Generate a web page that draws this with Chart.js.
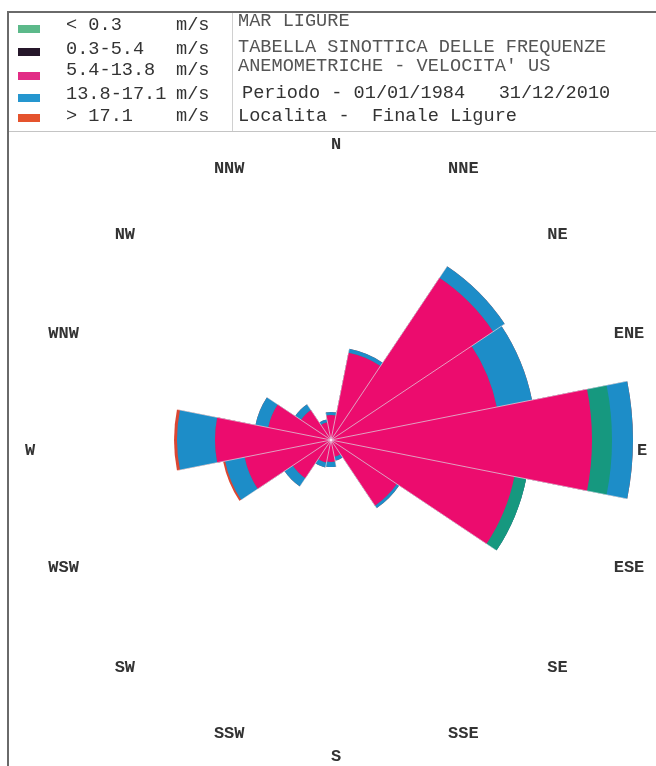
<!DOCTYPE html>
<html>
<head>
<meta charset="utf-8">
<script src="https://cdn.jsdelivr.net/npm/chart.js@4.4.1/dist/chart.umd.min.js"></script>
<style>
  html, body { margin: 0; padding: 0; background: #fff; width: 656px; height: 766px; overflow: hidden; }
  .frame { position: absolute; left: 7px; top: 11px; width: 680px; height: 760px; z-index: 2; pointer-events: none;
           border-left: 2px solid #6a6a6a; border-top: 2px solid #6a6a6a; }
  .head { position: absolute; left: 9px; top: 13px; width: 660px; height: 118px; border-bottom: 1px solid #c4c4c4; z-index: 2; }
  .divider { position: absolute; left: 232px; top: 13px; width: 1px; height: 118px; background: #d0d0d0; z-index: 2; }
  .txt { position: absolute; font-family: "Liberation Mono", monospace; font-size: 18.6px; z-index: 3;
         line-height: 20px; color: #333; white-space: pre; }
  .light { color: #555; }
  .sw { position: absolute; left: 18px; width: 22px; height: 8px; z-index: 3; }
  #wrap { position: absolute; left: 1px; top: 110px; width: 660px; height: 660px; z-index: 1; }
</style>
</head>
<body>
<div class="frame"></div>
<div class="head"></div>
<div class="divider"></div>

<div class="sw" style="top:25px;background:#5cb98a"></div>
<div class="sw" style="top:48px;background:#26172a"></div>
<div class="sw" style="top:72px;background:#e22c86"></div>
<div class="sw" style="top:94px;background:#2596cf"></div>
<div class="sw" style="top:114px;background:#e5532d"></div>

<div class="txt" style="left:66px;top:16px">&lt; 0.3</div>
<div class="txt" style="left:66px;top:40px">0.3-5.4</div>
<div class="txt" style="left:66px;top:61px">5.4-13.8</div>
<div class="txt" style="left:66px;top:85px">13.8-17.1</div>
<div class="txt" style="left:66px;top:107px">&gt; 17.1</div>
<div class="txt" style="left:176px;top:16px">m/s</div>
<div class="txt" style="left:176px;top:40px">m/s</div>
<div class="txt" style="left:176px;top:61px">m/s</div>
<div class="txt" style="left:176px;top:85px">m/s</div>
<div class="txt" style="left:176px;top:107px">m/s</div>

<div class="txt light" style="left:238px;top:12px">MAR LIGURE</div>
<div class="txt light" style="left:238px;top:38px">TABELLA SINOTTICA DELLE FREQUENZE</div>
<div class="txt light" style="left:238px;top:57px">ANEMOMETRICHE - VELOCITA' US</div>
<div class="txt" style="left:242px;top:84px">Periodo - 01/01/1984   31/12/2010</div>
<div class="txt" style="left:238px;top:107px">Localita -  Finale Ligure</div>

<div id="wrap"><canvas id="rose" width="660" height="660"></canvas></div>

<script>
// wind directions, clockwise from north
const directions = ["N", "NNE", "NE", "ENE", "E", "ESE", "SE", "SSE",
                    "S", "SSW", "SW", "WSW", "W", "WNW", "NW", "NNW"];

// frequencies per speed class (stacked outwards in this order)
const freqMid = [2.5, 8.9, 19.5, 16.9, 26.1, 18.7, 7.9, 1.7, 2.2, 2.3, 4.6, 8.8, 11.6, 6.4, 3.6, 1.8];   // 5.4-13.8
const freqCalm = [0, 0, 0, 0, 2.0, 1.2, 0, 0, 0, 0, 0, 0, 0, 0, 0, 0];                                  // < 0.3
const freqHigh = [0.3, 0.4, 1.4, 3.6, 2.1, 0, 0.3, 0.4, 0.5, 0.5, 1.0, 2.0, 3.8, 1.3, 0.7, 0.3];        // 13.8-17.1
const freqStorm = [0, 0, 0, 0, 0, 0, 0, 0, 0, 0, 0, 0.2, 0.3, 0, 0, 0];                                 // > 17.1

const classNames = ["5.4-13.8 m/s", "< 0.3 m/s", "13.8-17.1 m/s", "> 17.1 m/s"];
const classColors = ["#ec0c6e", "#16987f", "#1d8dc8", "#dc4632"];
const scaleMax = 33;
const labelAt = 30.6;

// polarArea does not stack, so each ring is drawn as a running total
let running = directions.map(() => 0);
const datasets = [freqMid, freqCalm, freqHigh, freqStorm].map((vals, k) => {
  running = running.map((r, i) => r + vals[i]);
  return {
    label: classNames[k],
    data: running.slice(),
    backgroundColor: classColors[k],
    borderWidth: 0
  };
});

const compassLabels = {
  id: "compassLabels",
  afterDraw(chart) {
    const scale = chart.scales.r;
    const ctx = chart.ctx;
    const step = Math.PI * 2 / directions.length;
    const dist = scale.getDistanceFromCenterForValue(labelAt);
    ctx.save();
    ctx.font = 'bold 17px "Liberation Mono", monospace';
    ctx.fillStyle = "#333";
    ctx.textAlign = "left";
    ctx.textBaseline = "middle";
    directions.forEach((d, i) => {
      const a = scale.getIndexAngle(i) + step / 2 - Math.PI / 2;
      ctx.fillText(d, scale.xCenter + dist * Math.cos(a), scale.yCenter + dist * Math.sin(a) + 11);
    });
    ctx.restore();
  }
};

const ctx = document.getElementById("rose").getContext("2d");
const rose = new Chart(ctx, {
  type: "polarArea",
  data: {
    labels: directions,
    datasets: datasets
  },
  options: {
    responsive: false,
    animation: false,
    plugins: {
      legend: { display: false },
      tooltip: { enabled: false }
    },
    scales: {
      r: {
        min: 0,
        max: scaleMax,
        startAngle: -11.25,
        ticks: { display: false },
        grid: { display: false, z: 1 },
        pointLabels: { display: false },
        angleLines: { display: true, color: "rgba(255,255,255,0.55)", lineWidth: 1 }
      }
    }
  },
  plugins: [compassLabels]
});
</script>
</body>
</html>
